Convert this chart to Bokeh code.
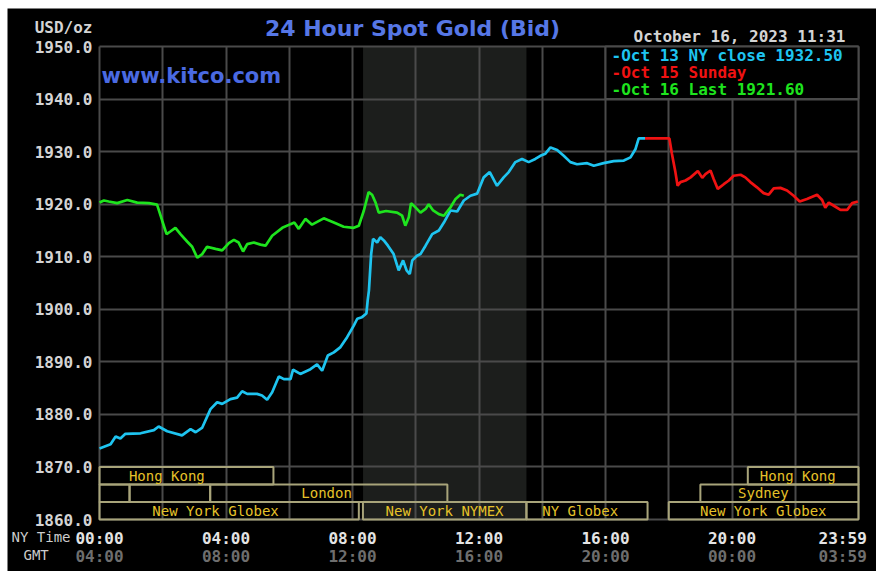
from bokeh.plotting import figure
from bokeh.models import (Range1d, FixedTicker, LinearAxis, Label, BoxAnnotation,
                          ColumnDataSource, PrintfTickFormatter)
from bokeh.embed import file_html
from bokeh.resources import INLINE
from bokeh.core.properties import value

# ---------------- data ----------------
oct13_hours = [0.0, 0.35, 0.51, 0.66, 0.82, 1.30, 1.72, 1.87, 2.14, 2.61,
               2.88, 3.04, 3.25, 3.51, 3.72, 3.88, 4.14, 4.35, 4.51, 4.67,
               4.98, 5.14, 5.30, 5.46, 5.67, 5.83, 6.04, 6.12, 6.35, 6.67,
               6.88, 7.04, 7.22, 7.41, 7.62, 7.83, 8.04, 8.15, 8.30, 8.44,
               8.48, 8.52, 8.59, 8.65, 8.78, 8.88, 8.99, 9.12, 9.30, 9.46,
               9.60, 9.71, 9.81, 9.89, 10.04, 10.15, 10.31, 10.52, 10.73, 10.89,
               11.10, 11.31, 11.52, 11.73, 11.94, 12.15, 12.34, 12.57, 12.78, 12.94,
               13.15, 13.36, 13.57, 13.78, 13.94, 14.10, 14.26, 14.47, 14.68, 14.89,
               15.10, 15.42, 15.63, 15.94, 16.26, 16.58, 16.79, 16.95, 17.05, 17.25]
oct13_prices = [1873.5, 1874.3, 1875.8, 1875.4, 1876.3, 1876.4, 1877.0, 1877.7, 1876.8, 1876.0,
                1877.2, 1876.6, 1877.5, 1881.0, 1882.3, 1882.0, 1882.9, 1883.2, 1884.4, 1883.9,
                1883.9, 1883.6, 1882.8, 1884.2, 1887.2, 1886.7, 1886.7, 1888.5, 1887.7, 1888.6,
                1889.5, 1888.3, 1891.2, 1891.8, 1892.8, 1894.7, 1896.9, 1898.2, 1898.5, 1899.2,
                1901.7, 1903.6, 1910.5, 1913.4, 1912.7, 1913.7, 1913.1, 1912.1, 1910.5, 1907.4,
                1909.3, 1907.4, 1906.7, 1909.3, 1910.2, 1910.5, 1912.1, 1914.3, 1915.0, 1916.5,
                1918.8, 1918.6, 1920.7, 1921.6, 1922.0, 1925.1, 1926.1, 1923.5, 1925.1, 1926.1,
                1928.0, 1928.6, 1928.0, 1928.6, 1929.2, 1929.6, 1930.8, 1930.3, 1929.2, 1928.0,
                1927.6, 1927.8, 1927.3, 1927.8, 1928.2, 1928.3, 1928.9, 1930.5, 1932.5, 1932.5]

oct15_hours = [17.25, 18.02, 18.10, 18.16, 18.21, 18.28, 18.37, 18.53, 18.69, 18.92,
               19.06, 19.16, 19.32, 19.42, 19.55, 19.74, 19.90, 20.05, 20.27, 20.42,
               20.58, 20.79, 21.00, 21.16, 21.32, 21.53, 21.74, 21.95, 22.14, 22.37,
               22.69, 22.85, 22.95, 23.06, 23.22, 23.43, 23.64, 23.80, 23.98]
oct15_prices = [1932.5, 1932.5, 1929.6, 1927.7, 1926.1, 1923.5, 1924.2, 1924.5, 1925.1, 1926.3,
                1925.0, 1925.7, 1926.4, 1924.8, 1922.9, 1923.8, 1924.5, 1925.4, 1925.6, 1925.1,
                1924.2, 1923.2, 1922.1, 1921.8, 1923.0, 1923.1, 1922.6, 1921.6, 1920.5, 1921.0,
                1921.8, 1920.8, 1919.3, 1920.3, 1919.7, 1918.9, 1918.9, 1920.2, 1920.5]

oct16_hours = [0.0, 0.14, 0.29, 0.56, 0.88, 1.19, 1.56, 1.82, 1.98, 2.12,
               2.24, 2.40, 2.56, 2.77, 2.93, 3.09, 3.25, 3.40, 3.67, 3.88,
               4.09, 4.25, 4.40, 4.54, 4.67, 4.88, 5.09, 5.25, 5.46, 5.78,
               6.04, 6.16, 6.30, 6.51, 6.72, 7.09, 7.41, 7.72, 8.04, 8.20,
               8.36, 8.51, 8.62, 8.73, 8.83, 9.06, 9.41, 9.57, 9.67, 9.78,
               9.85, 9.99, 10.15, 10.31, 10.41, 10.55, 10.73, 10.89, 11.10, 11.26,
               11.41, 11.52]
oct16_prices = [1920.3, 1920.7, 1920.5, 1920.2, 1920.8, 1920.3, 1920.2, 1919.9, 1916.9, 1914.3,
                1914.8, 1915.5, 1914.3, 1912.9, 1911.9, 1909.8, 1910.5, 1911.9, 1911.5, 1911.2,
                1912.6, 1913.2, 1912.7, 1911.0, 1912.4, 1912.7, 1912.3, 1912.1, 1914.0, 1915.5,
                1916.2, 1916.5, 1915.3, 1917.2, 1916.1, 1917.3, 1916.5, 1915.7, 1915.5, 1915.9,
                1918.8, 1922.3, 1921.8, 1920.3, 1918.4, 1918.7, 1918.4, 1917.8, 1915.9, 1917.5,
                1920.2, 1919.4, 1918.4, 1919.1, 1920.0, 1918.8, 1918.1, 1917.8, 1919.4, 1921.0,
                1921.8, 1921.6]

price_ticks = [1860, 1870, 1880, 1890, 1900, 1910, 1920, 1930, 1940, 1950]
grid_hours = [0, 2, 4, 6, 8, 10, 12, 14, 16, 18, 20, 22, 24]
time_ticks = [0, 4, 8, 12, 16, 20, 23.5]
ny_time_labels = ["00:00", "04:00", "08:00", "12:00", "16:00", "20:00", "23:59"]
gmt_labels = ["04:00", "08:00", "12:00", "16:00", "20:00", "00:00", "03:59"]

legend_texts = ["-Oct 13 NY close 1932.50", "-Oct 15 Sunday", "-Oct 16 Last 1921.60"]

# trading sessions (row 0 = top)
session_row = [0, 0, 1, 1, 1, 1, 2, 2, 2, 2]
session_start = [0.0, 20.5, 0.0, 0.95, 3.5, 19.0, 0.0, 8.33, 13.5, 18.0]
session_end = [5.5, 24.0, 0.95, 3.5, 11.0, 24.0, 8.2, 13.5, 17.33, 24.0]
session_label = ["Hong Kong", "Hong Kong", "London", "Sydney",
                 "New York Globex", "New York NYMEX", "NY Globex", "New York Globex"]
session_label_row = [0, 0, 1, 1, 2, 2, 2, 2]
session_label_hour = [2.13, 22.08, 7.18, 20.99, 3.67, 10.91, 15.2, 20.99]
nymex_start, nymex_end = 8 + 20 / 60, 13.5

# ---------------- layout ----------------
CYAN = "#1ec4f0"
RED = "#f01212"
GREEN = "#1ee41e"
GRID = "#4a4a4a"
MONO = "DejaVu Sans Mono"
BLUE = "#5677e6"
SESSION_LINE = "#a8a47a"
SESSION_TEXT = "#e6c229"

W, H = 869, 563            # black panel
OX, OY = 7, 8              # panel offset in page
FL, FR, FT, FB = 99, 858, 46, 519   # chart area in page pixels
X0, X1, Y0, Y1 = 0.0, 24.0, 1860.0, 1950.0
kx = (FR - FL) / (X1 - X0)
ky = (FB - FT) / (Y1 - Y0)


def hx(px):
    return X0 + (px - FL) / kx


def vy(py):
    return Y0 + (FB - py) / ky


p = figure(width=W, height=H,
           x_range=Range1d(hx(OX), hx(OX + W)), y_range=Range1d(vy(OY + H), vy(OY)),
           output_backend="svg", toolbar_location=None,
           background_fill_color="black", border_fill_color="black",
           min_border=0, margin=(OY, 882 - OX - W, 575 - OY - H, OX))
p.outline_line_color = None

# grid limited to the chart area
p.xgrid.ticker = FixedTicker(ticks=grid_hours)
p.ygrid.ticker = FixedTicker(ticks=price_ticks)
p.grid.grid_line_color = GRID
p.grid.grid_line_width = 2
try:
    p.xgrid.cross_bounds = (Y0, Y1)
    p.ygrid.cross_bounds = (X0, X1)
except AttributeError:
    p.grid.visible = False
    p.segment(x0=grid_hours, x1=grid_hours, y0=Y0, y1=Y1, line_color=GRID, line_width=2)
    p.segment(x0=X0, x1=X1, y0=price_ticks, y1=price_ticks, line_color=GRID, line_width=2)

# y axis at the chart edge
ya = p.yaxis[0]
ya.fixed_location = X0
ya.ticker = FixedTicker(ticks=price_ticks)
ya.formatter = PrintfTickFormatter(format="%.1f")
ya.major_label_text_font = MONO
ya.major_label_text_font_style = "bold"
ya.major_label_text_font_size = "16px"
ya.major_label_text_color = "#d4d4d4"
ya.axis_line_color = None
ya.major_tick_line_color = None
ya.minor_tick_line_color = None
ya.major_tick_out = 0
ya.major_tick_in = 0
ya.major_label_standoff = 7

# x axes (NY time and GMT)
xa = p.xaxis[0]
xa.ticker = FixedTicker(ticks=time_ticks)
xa.major_label_overrides = dict(zip(time_ticks, ny_time_labels))
gmt = LinearAxis(ticker=FixedTicker(ticks=time_ticks),
                 major_label_overrides=dict(zip(time_ticks, gmt_labels)))
p.add_layout(gmt, "below")
for ax, col, standoff in ((xa, "#e4e4e4", 9), (gmt, "#6e6e6e", 27)):
    ax.fixed_location = Y0
    ax.major_label_text_font = MONO
    ax.major_label_text_font_style = "bold"
    ax.major_label_text_font_size = "16px"
    ax.major_label_text_color = col
    ax.axis_line_color = None
    ax.major_tick_line_color = None
    ax.minor_tick_line_color = None
    ax.major_tick_out = 0
    ax.major_tick_in = 0
    ax.major_label_standoff = standoff

# NYMEX shaded period
p.add_layout(BoxAnnotation(left=nymex_start, right=nymex_end, bottom=Y0, top=Y1,
                           fill_color="#1c1e1c", fill_alpha=1.0, line_color=None,
                           level="image"))

# session boxes
row_h = 10 / 3
sess = ColumnDataSource(dict(
    left=session_start, right=session_end,
    top=[1870 - r * row_h for r in session_row],
    bottom=[1870 - (r + 1) * row_h for r in session_row]))
p.quad(left="left", right="right", top="top", bottom="bottom", source=sess,
       fill_color=None, line_color=SESSION_LINE, line_width=2)
lab = ColumnDataSource(dict(x=session_label_hour,
                            y=[1870 - (r + 0.5) * row_h for r in session_label_row],
                            text=session_label))
p.text(x="x", y="y", text="text", source=lab, text_font=value(MONO),
       text_font_size="14px", text_color=SESSION_TEXT, text_align="center",
       text_baseline="middle")

# price lines
p.line(oct13_hours, oct13_prices, line_color=CYAN, line_width=2.7)
p.line(oct15_hours, oct15_prices, line_color=RED, line_width=2.7)
p.line(oct16_hours, oct16_prices, line_color=GREEN, line_width=2.7)

# legend box
p.quad(left=[16], right=[24], top=[1950], bottom=[1940], fill_color="black",
       line_color=GRID, line_width=2)


def add_text(px, py, txt, font, size, color, align, bold=True):
    p.add_layout(Label(x=hx(px), y=vy(py), text=txt, text_font=font,
                       text_font_style="bold" if bold else "normal",
                       text_font_size=size, text_color=color,
                       text_align=align, text_baseline="middle"))


for txt, col, py in zip(legend_texts, [CYAN, RED, GREEN], [55, 72, 89]):
    add_text(611, py, txt, MONO, "16px", col, "left")

add_text(412, 28, "24 Hour Spot Gold (Bid)", "DejaVu Sans", "22px", BLUE, "center")
add_text(101, 75, "www.kitco.com", "DejaVu Sans", "21px", "#4a6ae2", "left")
add_text(633, 36, "October 16, 2023 11:31", MONO, "16px", "#d4d4d4", "left")
add_text(92, 27, "USD/oz", MONO, "16px", "#d4d4d4", "right")
add_text(11, 536, "NY Time", MONO, "14px", "#cccccc", "left", bold=False)
add_text(23, 554, "GMT", MONO, "14px", "#cccccc", "left", bold=False)

open("out.html", "w").write(file_html(p, INLINE))
